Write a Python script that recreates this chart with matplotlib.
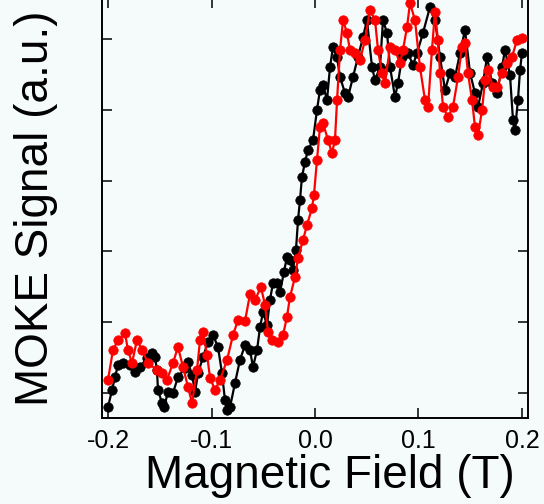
import matplotlib
matplotlib.use("Agg")
import matplotlib.pyplot as plt

plt.rcParams['font.family'] = ['Liberation Sans', 'DejaVu Sans']
plt.rcParams['axes.unicode_minus'] = False

# Black sweep
black_x = [-0.2000, -0.1961, -0.1932, -0.1903, -0.1855, -0.1787, -0.1739, -0.1691, -0.1623, -0.1575,
           -0.1546, -0.1527, -0.1517, -0.1478, -0.1459, -0.1420, -0.1372, -0.1324, -0.1256, -0.1227,
           -0.1188, -0.1159, -0.1130, -0.1082, -0.1034, -0.0986, -0.0937, -0.0899, -0.0870, -0.0850,
           -0.0821, -0.0773, -0.0725, -0.0676, -0.0628, -0.0599, -0.0560, -0.0531, -0.0502, -0.0464,
           -0.0435, -0.0406, -0.0367, -0.0338, -0.0300, -0.0271, -0.0242, -0.0213, -0.0184, -0.0164,
           -0.0145, -0.0126, -0.0097, -0.0068, -0.0019, 0.0019, 0.0048, 0.0077, 0.0116, 0.0145,
           0.0174, 0.0213, 0.0242, 0.0290, 0.0319, 0.0367, 0.0415, 0.0464, 0.0502, 0.0551,
           0.0580, 0.0628, 0.0657, 0.0696, 0.0725, 0.0773, 0.0802, 0.0841, 0.0899, 0.0947,
           0.0986, 0.1043, 0.1111, 0.1159, 0.1208, 0.1256, 0.1304, 0.1353, 0.1401, 0.1449,
           0.1498, 0.1546, 0.1575, 0.1623, 0.1662, 0.1710, 0.1758, 0.1807, 0.1836, 0.1884,
           0.1913, 0.1932, 0.1961, 0.1981, 0.2000]
black_y = [-0.198, 0.042, 0.226, 0.395, 0.424, 0.395, 0.297, 0.367, 0.494, 0.565,
           0.508, 0.325, 0.042, -0.141, -0.198, 0.014, 0.000, 0.226, 0.353, 0.438,
           0.254, 0.014, 0.282, 0.508, 0.720, 0.819, 0.650, 0.282, -0.099, -0.240,
           -0.198, 0.141, 0.466, 0.678, 0.607, 0.367, 0.607, 0.932, 1.144, 0.960,
           1.314, 1.554, 1.554, 1.427, 1.709, 1.921, 1.879, 1.737, 2.020, 2.444,
           2.726, 3.051, 3.263, 3.432, 3.573, 3.997, 4.280, 4.350, 4.138, 4.605,
           4.887, 4.746, 4.463, 4.237, 4.181, 4.463, 4.746, 5.028, 5.268, 4.605,
           4.421, 4.605, 5.268, 5.085, 4.605, 4.181, 4.379, 4.746, 4.802, 4.633,
           4.802, 5.085, 5.452, 5.268, 4.746, 4.280, 4.520, 4.463, 4.802, 5.127,
           4.520, 4.237, 4.040, 4.379, 4.746, 4.379, 4.237, 4.605, 4.845, 4.492,
           3.856, 3.715, 4.138, 4.562, 4.802]

# Red sweep
red_x = [-0.2000, -0.1952, -0.1903, -0.1836, -0.1807, -0.1768, -0.1720, -0.1671, -0.1614, -0.1527,
         -0.1478, -0.1430, -0.1372, -0.1324, -0.1275, -0.1227, -0.1188, -0.1140, -0.1111, -0.1082,
         -0.1043, -0.1014, -0.0966, -0.0918, -0.0850, -0.0792, -0.0744, -0.0676, -0.0628, -0.0580,
         -0.0522, -0.0483, -0.0454, -0.0415, -0.0357, -0.0309, -0.0271, -0.0242, -0.0193, -0.0164,
         -0.0116, -0.0077, -0.0029, -0.0010, 0.0019, 0.0048, 0.0077, 0.0126, 0.0164, 0.0193,
         0.0213, 0.0242, 0.0271, 0.0309, 0.0338, 0.0386, 0.0435, 0.0483, 0.0531, 0.0580,
         0.0609, 0.0647, 0.0676, 0.0725, 0.0773, 0.0821, 0.0850, 0.0889, 0.0918, 0.0966,
         0.1014, 0.1063, 0.1092, 0.1130, 0.1159, 0.1188, 0.1208, 0.1237, 0.1285, 0.1333,
         0.1382, 0.1420, 0.1449, 0.1478, 0.1517, 0.1546, 0.1575, 0.1614, 0.1643, 0.1671,
         0.1720, 0.1758, 0.1807, 0.1855, 0.1903, 0.1952, 0.2000]
red_y = [0.184, 0.607, 0.749, 0.847, 0.607, 0.424, 0.749, 0.607, 0.424, 0.325,
         0.282, 0.184, 0.424, 0.650, 0.367, 0.085, -0.141, 0.325, 0.749, 0.862,
         0.537, 0.212, 0.042, 0.184, 0.466, 0.819, 1.031, 1.017, 1.398, 1.314,
         1.497, 1.243, 0.862, 0.749, 0.720, 0.819, 1.073, 1.356, 1.638, 1.907,
         2.161, 2.373, 2.613, 2.797, 3.291, 3.757, 3.814, 3.573, 3.390, 3.573,
         4.138, 4.845, 5.268, 5.085, 4.845, 4.802, 4.703, 4.986, 5.410, 5.268,
         4.845, 4.520, 4.379, 4.887, 4.845, 4.661, 4.845, 5.169, 5.508, 5.268,
         4.605, 4.138, 4.040, 4.845, 5.381, 4.986, 4.520, 4.040, 3.898, 4.040,
         4.463, 4.887, 4.944, 4.520, 4.138, 3.757, 3.644, 3.997, 4.421, 4.562,
         4.322, 4.322, 4.520, 4.661, 4.746, 4.986, 5.014]

x_ticks = [-0.2, -0.1, 0.0, 0.1, 0.2]
x_tick_labels = ['-0.2', '-0.1', '0.0', '0.1', '0.2']
y_ticks = [0, 1, 2, 3, 4, 5]

bg = '#f4fbfa'
fig = plt.figure(figsize=(5.44, 5.04), dpi=100, facecolor=bg)
ax = fig.add_axes([102/544, 86/504, 426/544, 420/504], facecolor=bg)

ax.plot(black_x, black_y, '-o', color='black', lw=1.6, ms=6.8, mec='black', mew=0.5)
ax.plot(red_x, red_y, '-o', color='#ff0000', lw=1.6, ms=6.8, mec='#ff0000', mew=0.5)

ax.set_xlim(-0.2058, 0.2058)
ax.set_ylim(-0.353, 5.58)
ax.set_xticks(x_ticks)
ax.set_xticklabels(x_tick_labels)
ax.set_yticks(y_ticks)
ax.set_yticklabels([])
ax.tick_params(direction='in', length=7.5, width=1.1, top=True, right=True,
               labelsize=18, pad=8)
for s in ax.spines.values():
    s.set_linewidth(1.4)

ax.set_xlabel('Magnetic Field (T)', fontsize=33)
ax.xaxis.set_label_coords(0.535, -0.085)
ax.set_ylabel('MOKE Signal (a.u.)', fontsize=33)
ax.yaxis.set_label_coords(-0.103, 0.5)

fig.savefig('out.png', dpi=100, facecolor=bg)
